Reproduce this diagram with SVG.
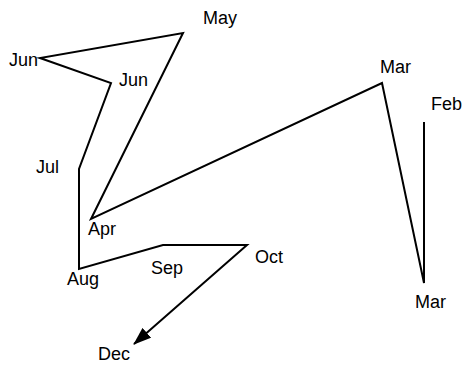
<svg xmlns="http://www.w3.org/2000/svg" width="468" height="370" viewBox="0 0 468 370">
<defs>
<marker id="arrow" viewBox="0 0 18 13" refX="17" refY="6.5" markerWidth="18" markerHeight="13" markerUnits="userSpaceOnUse" orient="auto">
<path d="M0,0 L18,6.5 L0,13 z" fill="#000"/>
</marker>
<style>
.lbl{font-family:"Liberation Sans",Arial,sans-serif;font-size:18px;fill:#000}
.ln{fill:none;stroke:#000;stroke-width:2;stroke-linejoin:miter}
</style>
</defs>
<rect width="468" height="370" fill="#fff"/>
<g id="connectors">
<polyline class="ln" points="424,122 424,283 382,83 91,219 183,33 40,58 111,83 79,169 79,269 163,245 247,245 134,344" marker-end="url(#arrow)"/>
</g>
<g id="n-feb"><text class="lbl" x="431" y="110">Feb</text></g>
<g id="n-mar1"><text class="lbl" x="415" y="308">Mar</text></g>
<g id="n-mar2"><text class="lbl" x="380" y="73">Mar</text></g>
<g id="n-apr"><text class="lbl" x="88" y="235">Apr</text></g>
<g id="n-may"><text class="lbl" x="203" y="24">May</text></g>
<g id="n-jun1"><text class="lbl" x="119" y="86">Jun</text></g>
<g id="n-jun2"><text class="lbl" x="9" y="66">Jun</text></g>
<g id="n-jul"><text class="lbl" x="36" y="173">Jul</text></g>
<g id="n-aug"><text class="lbl" x="67" y="285">Aug</text></g>
<g id="n-sep"><text class="lbl" x="151" y="274">Sep</text></g>
<g id="n-oct"><text class="lbl" x="255" y="263">Oct</text></g>
<g id="n-dec"><text class="lbl" x="98" y="360">Dec</text></g>
</svg>
